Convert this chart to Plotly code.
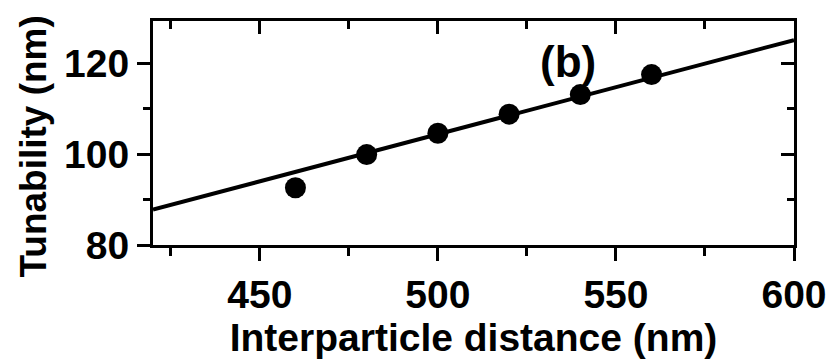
import plotly.graph_objects as go

# Data
distance = [460, 480, 500, 520, 540, 560]          # nm
tunability = [92.6, 99.9, 104.6, 108.8, 113.1, 117.5]  # nm

fit_x = [420, 600]
fit_y = [87.8, 125.1]

x_range = [420, 600]
y_range = [80, 129.3]
x_major = [450, 500, 550, 600]
y_major = [80, 100, 120]
x_labels = ["450", "500", "550", "600"]
y_labels = ["80", "100", "120"]

FONT = "Liberation Sans, Arial, sans-serif"

fig = go.Figure()
fig.add_trace(go.Scatter(x=fit_x, y=fit_y, mode="lines",
                         line=dict(color="black", width=4), showlegend=False,
                         hoverinfo="skip"))
fig.add_trace(go.Scatter(x=distance, y=tunability, mode="markers",
                         marker=dict(color="black", size=21), showlegend=False))
# helper trace so the mirrored (top/right) axes are drawn
fig.add_trace(go.Scatter(x=fit_x, y=fit_y, xaxis="x2", yaxis="y2", mode="markers",
                         marker=dict(opacity=0), showlegend=False, hoverinfo="skip"))

axis_common = dict(showline=True, linecolor="black", linewidth=3, showgrid=False,
                   zeroline=False, tickcolor="black", tickwidth=3, ticklen=13)

fig.update_layout(
    width=839, height=359,
    margin=dict(l=153, r=33, t=21, b=104),
    plot_bgcolor="white", paper_bgcolor="white",
    font=dict(family=FONT, color="black"),
    xaxis=dict(range=x_range, tickvals=x_major,
               ticktext=["<b>%s</b>" % t for t in x_labels], ticks="outside",
               tickfont=dict(size=39, family=FONT),
               title=dict(text="<b>Interparticle distance (nm)</b>",
                          font=dict(size=39, family=FONT), standoff=4),
               minor=dict(dtick=25, tick0=400, ticks="outside", ticklen=8,
                          tickwidth=3, tickcolor="black", showgrid=False),
               **axis_common),
    yaxis=dict(range=y_range, tickvals=y_major,
               ticktext=["<b>%s</b>" % t for t in y_labels], ticks="outside",
               tickfont=dict(size=39, family=FONT),
               minor=dict(dtick=10, tick0=80, ticks="outside", ticklen=7,
                          tickwidth=3, tickcolor="black", showgrid=False),
               **axis_common),
    xaxis2=dict(range=x_range, overlaying="x", side="top", tickvals=x_major,
                ticks="inside", showticklabels=False,
                minor=dict(dtick=25, tick0=400, ticks="inside", ticklen=8,
                           tickwidth=3, tickcolor="black", showgrid=False),
                **axis_common),
    yaxis2=dict(range=y_range, overlaying="y", side="right", tickvals=y_major,
                ticks="inside", showticklabels=False,
                minor=dict(dtick=10, tick0=80, ticks="inside", ticklen=7,
                           tickwidth=3, tickcolor="black", showgrid=False),
                **axis_common),
    annotations=[
        dict(x=536.6, y=120.4, xref="x", yref="y", text="<b>(b)</b>",
             showarrow=False, font=dict(size=44, family=FONT, color="black")),
        dict(x=-0.187, y=0.44, xref="paper", yref="paper",
             text="<b>Tunability (nm)</b>", textangle=-90, showarrow=False,
             xanchor="center", yanchor="middle",
             font=dict(size=37, family=FONT, color="black")),
    ],
)

fig.write_html("out.html")
